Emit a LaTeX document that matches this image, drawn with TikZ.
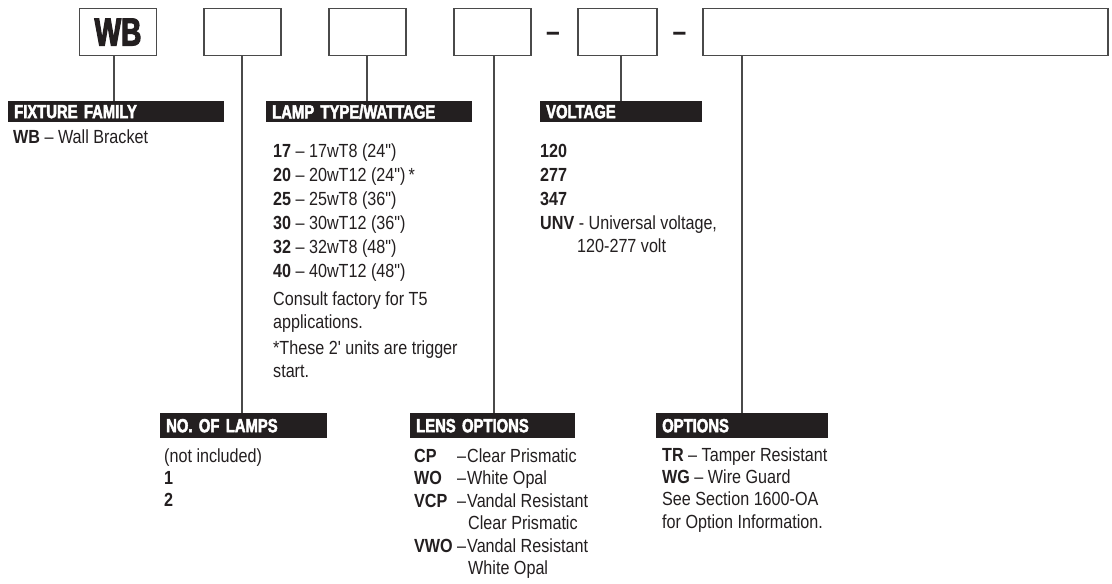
\documentclass[tikz,border=0pt]{standalone}
\usepackage{fontspec}
\setmainfont{Liberation Sans}[FakeStretch=0.85, Ligatures=TeXOff]
\newfontfamily\hdrfam{Liberation Sans}[FakeStretch=0.78, FakeBold=2.5]
\newfontfamily\bigfam{Liberation Sans}[FakeStretch=0.72, FakeBold=3]
\definecolor{ink}{HTML}{231F20}
\definecolor{rule}{HTML}{4A4A4A}
\newcommand{\inch}{\symbol{34}}
\newcommand{\feet}{\symbol{39}}
\begin{document}
\begin{tikzpicture}[x=1pt,y=-1pt,
  box/.style={draw=rule, line width=1.3pt, inner sep=0pt, minimum height=47pt},
  hdr/.style={fill=ink, text=white, font=\hdrfam\bfseries\fontsize{19}{21}\selectfont,
     anchor=north west, inner xsep=6pt, inner ysep=0pt, minimum height=#1, align=left},
  hdr/.default=21pt,
  conn/.style={draw=rule, line width=1.3pt},
  txt/.style={anchor=base west, inner sep=0pt, text=ink, font=\fontsize{19}{21}\selectfont},
  dashtxt/.style={anchor=base, inner sep=0pt, text=ink, font=\bfseries\fontsize{29}{30}\selectfont}
]
\useasboundingbox (0,0) rectangle (1112,584);
\fill[white] (0,0) rectangle (1112,584);

% top code boxes
\node[box, minimum width=77pt, font=\bigfam\bfseries\fontsize{39}{40}\selectfont, text=ink] (b1) at (118,32) {WB};
\node[box, minimum width=77pt] (b2) at (242.5,32) {};
\node[box, minimum width=77pt] (b3) at (367.5,32) {};
\node[box, minimum width=77pt] (b4) at (492.5,32) {};
\node[dashtxt] (d1) at (553,41) {–};
\node[box, minimum width=79pt] (b5) at (617.5,32) {};
\node[dashtxt] (d2) at (679.5,41) {–};
\node[box, minimum width=405pt] (b6) at (905.5,32) {};

% headers
\node[hdr, text width=204pt] (h1) at (8,101) {FIXTURE FAMILY};
\node[hdr, text width=194pt] (h3) at (266,101) {LAMP TYPE/WATTAGE};
\node[hdr, text width=150pt] (h5) at (540,101) {VOLTAGE};
\node[hdr=25pt, text width=155pt] (h2) at (160,413) {NO. OF LAMPS};
\node[hdr=25pt, text width=153pt] (h4) at (410,413) {LENS OPTIONS};
\node[hdr=25pt, text width=160pt] (h6) at (656,413) {OPTIONS};

% connectors
\coordinate (c1) at (114,55.5);
\coordinate (c2) at (242,55.5);
\coordinate (c3) at (367,55.5);
\coordinate (c4) at (494,55.5);
\coordinate (c5) at (621,55.5);
\coordinate (c6) at (742,55.5);
\draw[conn] (c1) -- (c1 |- h1.north);
\draw[conn] (c2) -- (c2 |- h2.north);
\draw[conn] (c3) -- (c3 |- h3.north);
\draw[conn] (c4) -- (c4 |- h4.north);
\draw[conn] (c5) -- (c5 |- h5.north);
\draw[conn] (c6) -- (c6 |- h6.north);

% fixture family
\node[txt] (f1) at (13,143) {\textbf{WB} – Wall Bracket};

% lamp type
\node[txt] (l1) at (273,157) {\textbf{17} – 17wT8 (24\inch)};
\node[txt] (l2) at (273,181) {\textbf{20} – 20wT12 (24\inch)\,*};
\node[txt] (l3) at (273,205) {\textbf{25} – 25wT8 (36\inch)};
\node[txt] (l4) at (273,229) {\textbf{30} – 30wT12 (36\inch)};
\node[txt] (l5) at (273,253) {\textbf{32} – 32wT8 (48\inch)};
\node[txt] (l6) at (273,277) {\textbf{40} – 40wT12 (48\inch)};
\node[txt] (l7) at (273,305) {Consult factory for T5};
\node[txt] (l8) at (273,328) {applications.};
\node[txt] (l9) at (273,354) {*These 2\feet{} units are trigger};
\node[txt] (l10) at (273,377) {start.};

% voltage
\node[txt] (v1) at (540,157) {\textbf{120}};
\node[txt] (v2) at (540,181) {\textbf{277}};
\node[txt] (v3) at (540,205) {\textbf{347}};
\node[txt] (v4) at (540,229) {\textbf{UNV} - Universal voltage,};
\node[txt] (v5) at (577,252) {120-277 volt};

% number of lamps
\node[txt] (n1) at (164,462) {(not included)};
\node[txt] (n2) at (164,484) {\textbf{1}};
\node[txt] (n3) at (164,506) {\textbf{2}};

% lens options
\node[txt] (o1) at (414,462) {\textbf{CP}};
\node[txt] (o2) at (414,484) {\textbf{WO}};
\node[txt] (o3) at (414,507) {\textbf{VCP}};
\node[txt] (o4) at (414,552) {\textbf{VWO}};
\node[txt] (p1) at (457,462) {–\kern1pt Clear Prismatic};
\node[txt] (p2) at (457,484) {–\kern1pt White Opal};
\node[txt] (p3) at (457,507) {–\kern1pt Vandal Resistant};
\node[txt] (p4) at (468,529) {Clear Prismatic};
\node[txt] (p5) at (457,552) {–\kern1pt Vandal Resistant};
\node[txt] (p6) at (468,574) {White Opal};

% options
\node[txt] (t1) at (662,461) {\textbf{TR} – Tamper Resistant};
\node[txt] (t2) at (662,483) {\textbf{WG} – Wire Guard};
\node[txt] (t3) at (662,505) {See Section 1600-OA};
\node[txt] (t4) at (662,528) {for Option Information.};
\end{tikzpicture}
\end{document}
